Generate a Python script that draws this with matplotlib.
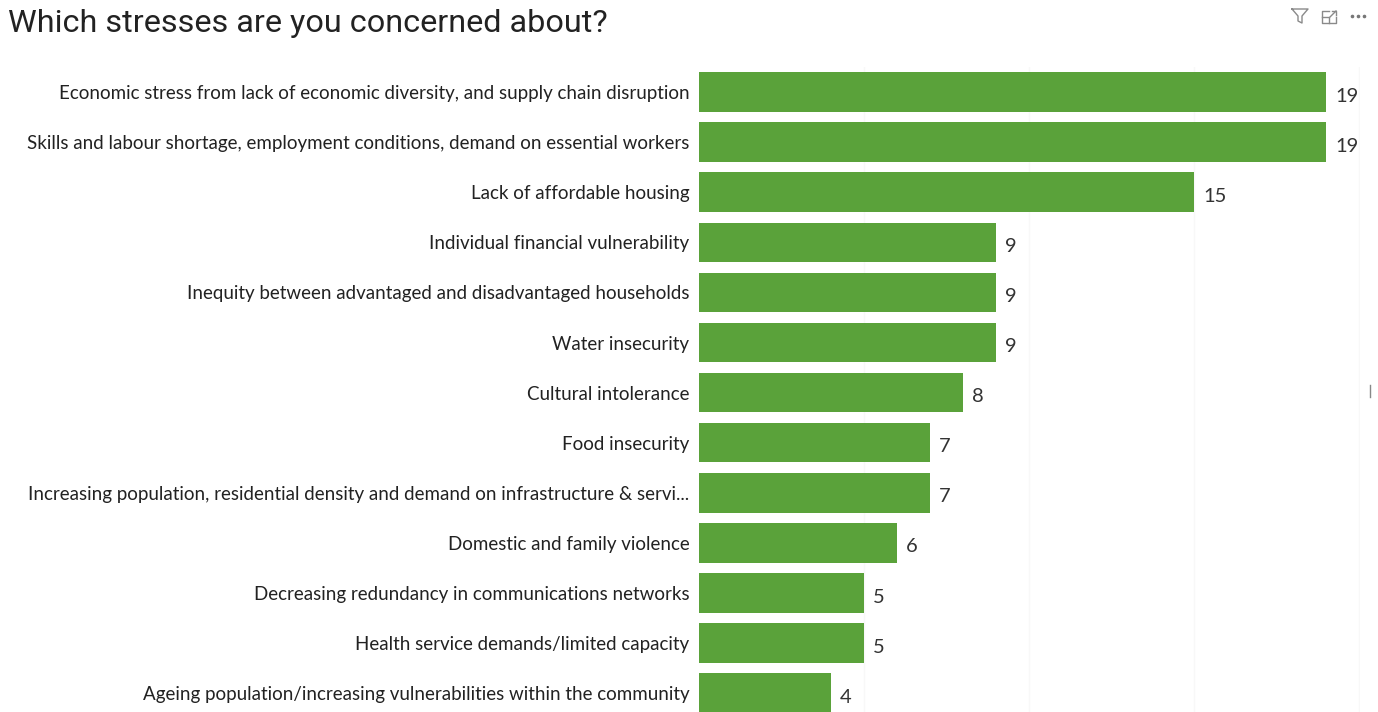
import matplotlib
matplotlib.use("Agg")
import matplotlib.pyplot as plt

categories = [
    "Economic stress from lack of economic diversity, and supply chain disruption",
    "Skills and labour shortage, employment conditions, demand on essential workers",
    "Lack of affordable housing",
    "Individual financial vulnerability",
    "Inequity between advantaged and disadvantaged households",
    "Water insecurity",
    "Cultural intolerance",
    "Food insecurity",
    "Increasing population, residential density and demand on infrastructure & servi...",
    "Domestic and family violence",
    "Decreasing redundancy in communications networks",
    "Health service demands/limited capacity",
    "Ageing population/increasing vulnerabilities within the community",
]
values = [19, 19, 15, 9, 9, 9, 8, 7, 7, 6, 5, 5, 4]
gridlines = [5, 10, 15, 20]

plt.rcParams["font.family"] = ["Lato", "DejaVu Sans"]

fig = plt.figure(figsize=(13.78, 7.12), dpi=100)
W, H = 1378, 712
# plot area in pixels: x=0 at 699, 19 at 1326, rows 50.1 px apart starting at y=92
left, right = 699, 1360
row = 50.1
top = 92 - row / 2
ax = fig.add_axes([left / W, 0, (right - left) / W, 1 - top / H])

y = list(range(len(categories)))
ax.barh(y, values, height=0.79, color="#5aa23a", zorder=2)
ax.set_ylim((H - top) / row - 0.5, -0.5)
ax.set_xlim(0, (right - left) / (627 / 19))

for i, v in enumerate(values):
    ax.annotate(str(v), (v, i), xytext=(9, -4), textcoords="offset pixels",
                va="center", ha="left", fontsize=14.5, color="#333333", clip_on=True)

ax.set_yticks(y)
ax.set_yticklabels(categories, fontsize=13.5, color="#222222")
ax.tick_params(axis="y", length=0, pad=7)
ax.set_xticks(gridlines)
ax.tick_params(axis="x", length=0, labelbottom=False)
ax.grid(axis="x", color="#f8f8f8", linewidth=1, zorder=0)
for s in ax.spines.values():
    s.set_visible(False)

fig.text(8 / W, 1 - 23 / H, "Which stresses are you concerned about?", fontsize=23.3,
         family=["Roboto", "DejaVu Sans"], color="#222222", va="center", ha="left")

# toolbar icons in the top right, drawn in pixel coordinates
ov = fig.add_axes([0, 0, 1, 1], facecolor="none")
ov.set_xlim(0, W)
ov.set_ylim(H, 0)
ov.axis("off")
icon = "#8a8a8a"
ov.plot([1292, 1308, 1302, 1302, 1298, 1298, 1292], [9, 9, 16, 23, 21, 16, 9], color=icon, lw=1)
ov.plot([1329, 1322, 1322, 1336, 1336], [11, 11, 23, 23, 17], color=icon, lw=1)
ov.plot([1322, 1329, 1329], [17, 17, 23], color=icon, lw=1)
ov.plot([1330, 1336], [17, 11], color=icon, lw=1)
ov.plot([1332, 1336, 1336], [11, 11, 15], color=icon, lw=1)
ov.plot([1352, 1358, 1364], [16, 16, 16], ls="none", marker="o", ms=1.6, color="#777777")
ov.plot([1370, 1370], [385, 397], color="#888888", lw=1)

fig.savefig("out.png", dpi=100)
